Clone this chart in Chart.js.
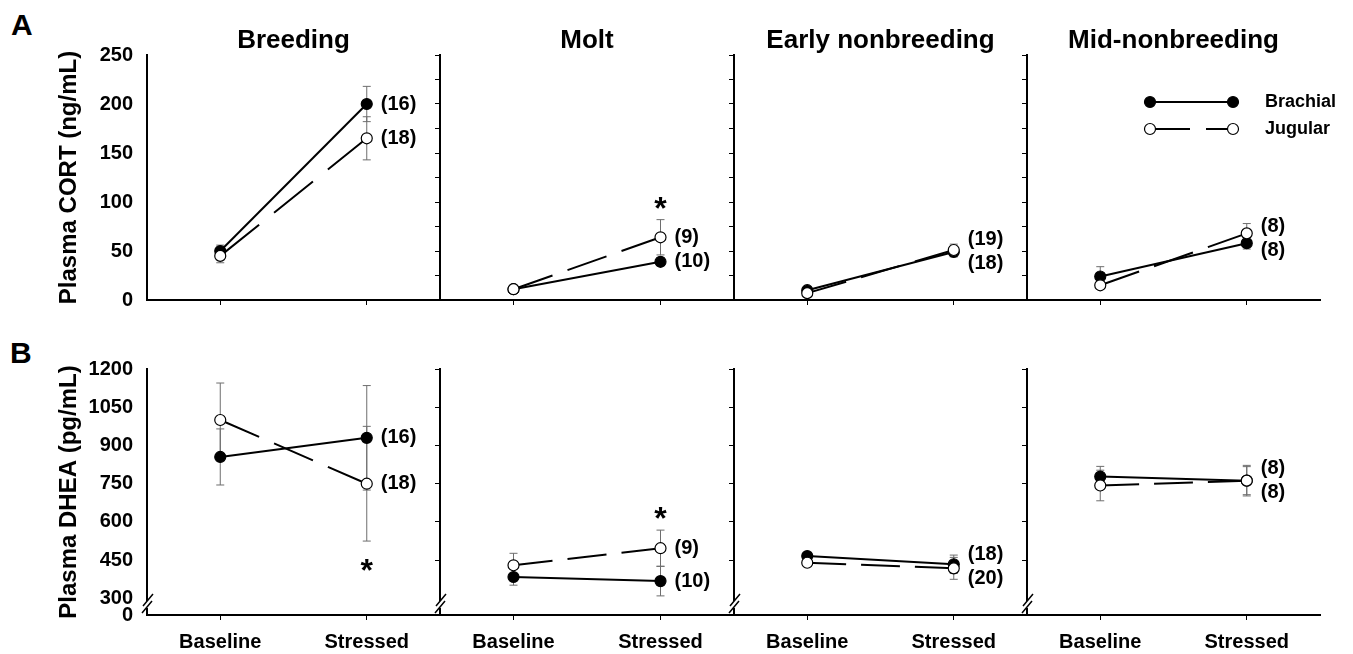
<!DOCTYPE html>
<html>
<head>
<meta charset="utf-8">
<script src="https://cdn.jsdelivr.net/npm/chart.js@4.4.0/dist/chart.umd.min.js"></script>
<style>
  body { margin: 0; background: #fff; width: 1353px; height: 654px; overflow: hidden; position: relative;
         font-family: "Liberation Sans", Arial, sans-serif; }
  canvas { position: absolute; }
  .tag { position: absolute; font-weight: bold; font-size: 30px; line-height: 30px; }
</style>
</head>
<body>
<div class="tag" style="left:11px;top:10px">A</div>
<div class="tag" style="left:10px;top:338px">B</div>
<script>
var seasons = ['Breeding', 'Molt', 'Early nonbreeding', 'Mid-nonbreeding'];
var phases = ['Baseline', 'Stressed'];

// Plasma CORT (ng/mL): [baseline, stressed] for each season
var cortBrachial   = [[50, 200], [11, 39], [10, 49], [24, 58]];
var cortBrachialSE = [[6, 18],   [2, 4],   [2, 5],   [10, 6]];
var cortJugular    = [[45, 165], [11, 64], [7, 51],  [15, 68]];
var cortJugularSE  = [[7, 22],   [2, 18],  [2, 6],   [3, 10]];
var cortN          = [[16, 18],  [10, 9],  [18, 19], [8, 8]];   // [brachial, jugular]
var cortSig        = ['', 'above', '', ''];
var cortTicks      = [0, 50, 100, 150, 200, 250];

// Plasma DHEA (pg/mL)
var dheaBrachial   = [[855, 930], [384, 368], [466, 434], [778, 762]];
var dheaBrachialSE = [[110, 205], [32, 58],   [10, 36],   [40, 60]];
var dheaJugular    = [[1000, 750], [430, 497], [440, 418], [743, 762]];
var dheaJugularSE  = [[145, 225], [47, 71],   [10, 43],   [60, 55]];
var dheaN          = [[16, 18],   [10, 9],    [18, 20],   [8, 8]];
var dheaSig        = ['below', 'above', '', ''];
var dheaTicks      = [300, 450, 600, 750, 900, 1050, 1200];
var dheaFloor      = 235;   // axis break: this value is labelled 0

Chart.defaults.font.family = '"Liberation Sans", Arial, sans-serif';
Chart.defaults.color = '#000';
Chart.defaults.animation = false;

var plotLefts = [147, 440, 734, 1027];
var plotRight = 1320;

// error bars, n labels, asterisks, legend and axis break
var panelMarks = {
  id: 'panelMarks',
  beforeDatasetsDraw: function(chart) {
    var ctx = chart.ctx, ys = chart.scales.y;
    ctx.save();
    ctx.strokeStyle = '#6e6e6e';
    ctx.lineWidth = 1;
    chart.data.datasets.forEach(function(ds, di) {
      var meta = chart.getDatasetMeta(di);
      ds.errors.forEach(function(e, j) {
        var x = meta.data[j].x, v = ds.data[j];
        var y1 = ys.getPixelForValue(v + e), y2 = ys.getPixelForValue(v - e);
        ctx.beginPath();
        ctx.moveTo(x, y1); ctx.lineTo(x, y2);
        ctx.moveTo(x - 4, y1); ctx.lineTo(x + 4, y1);
        ctx.moveTo(x - 4, y2); ctx.lineTo(x + 4, y2);
        ctx.stroke();
      });
    });
    ctx.restore();
  },
  afterDatasetsDraw: function(chart, args, opts) {
    var ctx = chart.ctx, ys = chart.scales.y;
    var jug = chart.data.datasets[0], bra = chart.data.datasets[1];
    var x = chart.getDatasetMeta(0).data[1].x;
    var yj = ys.getPixelForValue(jug.data[1]);
    var yb = ys.getPixelForValue(bra.data[1]);
    if (Math.abs(yj - yb) < 24) {
      var mid = (yj + yb) / 2;
      if (yj <= yb) { yj = mid - 12; yb = mid + 12; } else { yb = mid - 12; yj = mid + 12; }
    }
    ctx.save();
    ctx.fillStyle = '#000';
    ctx.font = 'bold 20px "Liberation Sans", Arial, sans-serif';
    ctx.textBaseline = 'middle';
    ctx.textAlign = 'left';
    ctx.fillText('(' + opts.n[0] + ')', x + 14, yb);
    ctx.fillText('(' + opts.n[1] + ')', x + 14, yj);
    if (opts.sig) {
      var ay;
      if (opts.sig === 'above') ay = ys.getPixelForValue(jug.data[1] + jug.errors[1]) - 18;
      else ay = ys.getPixelForValue(jug.data[1] - jug.errors[1]) + 23;
      ctx.font = 'bold 32px "Liberation Sans", Arial, sans-serif';
      ctx.textAlign = 'center';
      ctx.textBaseline = 'alphabetic';
      ctx.fillText('*', x, ay + 17);
    }
    ctx.restore();
  },
  afterDraw: function(chart, args, opts) {
    var ctx = chart.ctx, a = chart.chartArea;
    ctx.save();
    if (opts.legend) {
      var x1 = a.left + 123, x2 = a.left + 206;
      var rows = [{y: a.top + 47, fill: '#000', dash: [], text: 'Brachial'},
                  {y: a.top + 74, fill: '#fff', dash: [40, 16], text: 'Jugular'}];
      rows.forEach(function(r) {
        ctx.strokeStyle = '#000';
        ctx.lineWidth = 2;
        ctx.setLineDash(r.dash);
        ctx.beginPath(); ctx.moveTo(x1, r.y); ctx.lineTo(x2, r.y); ctx.stroke();
        ctx.setLineDash([]);
        ctx.lineWidth = 1.2;
        ctx.fillStyle = r.fill;
        [x1, x2].forEach(function(px) {
          ctx.beginPath(); ctx.arc(px, r.y, 5.5, 0, Math.PI * 2); ctx.fill(); ctx.stroke();
        });
        ctx.fillStyle = '#000';
        ctx.font = 'bold 18px "Liberation Sans", Arial, sans-serif';
        ctx.textBaseline = 'middle';
        ctx.fillText(r.text, x2 + 32, r.y);
      });
    }
    if (opts.brk) {
      var bx = a.left, by = a.bottom - 12;
      ctx.fillStyle = '#fff';
      ctx.fillRect(bx - 2, by - 2, 4, 7);
      ctx.strokeStyle = '#000';
      ctx.lineWidth = 1.5;
      ctx.beginPath();
      ctx.moveTo(bx - 4, by + 3); ctx.lineTo(bx + 6, by - 9);
      ctx.moveTo(bx - 5, by + 10); ctx.lineTo(bx + 5, by - 2);
      ctx.stroke();
    }
    ctx.restore();
  }
};

function buildPanel(row, i) {
  var isA = row === 'A';
  var first = i === 0;
  var yw = first ? 147 : 12;
  var plotW = (i < 3 ? plotLefts[i + 1] : plotRight) - plotLefts[i];
  var rp = 30;
  var xh = isA ? 30 : 39;
  var padTop = isA ? 0 : 30;
  var height = isA ? 330 : 315;

  var canvas = document.createElement('canvas');
  canvas.width = yw + plotW + rp;
  canvas.height = height;
  canvas.style.left = (plotLefts[i] - yw) + 'px';
  canvas.style.top = (isA ? 0 : 339) + 'px';
  document.body.appendChild(canvas);

  var yScale = {
    border: { display: true, color: '#000', width: 2 },
    grid: { drawOnChartArea: false, drawTicks: !first, tickLength: 5, color: '#000' },
    ticks: { display: first, font: { size: 20, weight: 'bold' }, padding: 14, color: '#000' },
    title: {
      display: first,
      text: isA ? 'Plasma CORT (ng/mL)' : 'Plasma DHEA (pg/mL)',
      font: { size: 24, weight: 'bold' },
      color: '#000',
      padding: { top: 55, bottom: 0 }
    },
    afterFit: function(s) { s.width = yw; }
  };
  if (isA) {
    yScale.min = cortTicks[0];
    yScale.max = cortTicks[cortTicks.length - 1];
    yScale.afterBuildTicks = function(s) {
      var step = first ? 50 : 25, t = [];
      for (var v = s.min; v <= s.max; v += step) t.push({ value: v });
      s.ticks = t;
    };
  } else {
    yScale.min = dheaFloor;
    yScale.max = dheaTicks[dheaTicks.length - 1];
    yScale.afterBuildTicks = function(s) {
      var vals = first ? [dheaFloor].concat(dheaTicks) : dheaTicks.slice(1);
      s.ticks = vals.map(function(v) { return { value: v }; });
    };
    yScale.ticks.callback = function(v) { return v === dheaFloor ? '0' : v; };
  }

  new Chart(canvas, {
    type: 'line',
    data: {
      labels: phases,
      datasets: [
        {
          label: 'Jugular',
          data: isA ? cortJugular[i] : dheaJugular[i],
          errors: isA ? cortJugularSE[i] : dheaJugularSE[i],
          borderColor: '#000', borderWidth: 2,
          pointRadius: 5.5, pointBorderWidth: 1.2,
          pointBackgroundColor: '#fff', pointBorderColor: '#000',
          segment: {
            borderDash: function(c) {
              var len = Math.hypot(c.p1.x - c.p0.x, c.p1.y - c.p0.y);
              var dash = len * 2.6 / 9.8;
              return [dash, dash / 2.6];
            }
          }
        },
        {
          label: 'Brachial',
          data: isA ? cortBrachial[i] : dheaBrachial[i],
          errors: isA ? cortBrachialSE[i] : dheaBrachialSE[i],
          borderColor: '#000', borderWidth: 2,
          pointRadius: 5.5, pointBorderWidth: 1.2,
          pointBackgroundColor: '#000', pointBorderColor: '#000'
        }
      ]
    },
    options: {
      responsive: false,
      events: [],
      layout: { padding: { top: padTop, right: rp, left: 0, bottom: 0 } },
      scales: {
        x: {
          type: 'category',
          offset: true,
          border: { display: true, color: '#000', width: 2 },
          grid: { drawOnChartArea: false, drawTicks: true, tickLength: 5, color: '#000' },
          ticks: { display: !isA, font: { size: 20, weight: 'bold' }, padding: 10, color: '#000', maxRotation: 0 },
          afterFit: function(s) { s.height = xh; }
        },
        y: yScale
      },
      plugins: {
        legend: { display: false },
        tooltip: { enabled: false },
        title: {
          display: isA,
          text: seasons[i],
          fullSize: false,
          color: '#000',
          font: { size: 26, weight: 'bold', lineHeight: 1 },
          padding: { top: 28, bottom: 1 }
        },
        panelMarks: {
          n: isA ? cortN[i] : dheaN[i],
          sig: isA ? cortSig[i] : dheaSig[i],
          legend: isA && i === 3,
          brk: !isA
        }
      }
    },
    plugins: [panelMarks]
  });
}

for (var i = 0; i < 4; i++) buildPanel('A', i);
for (var k = 0; k < 4; k++) buildPanel('B', k);
</script>
</body>
</html>
